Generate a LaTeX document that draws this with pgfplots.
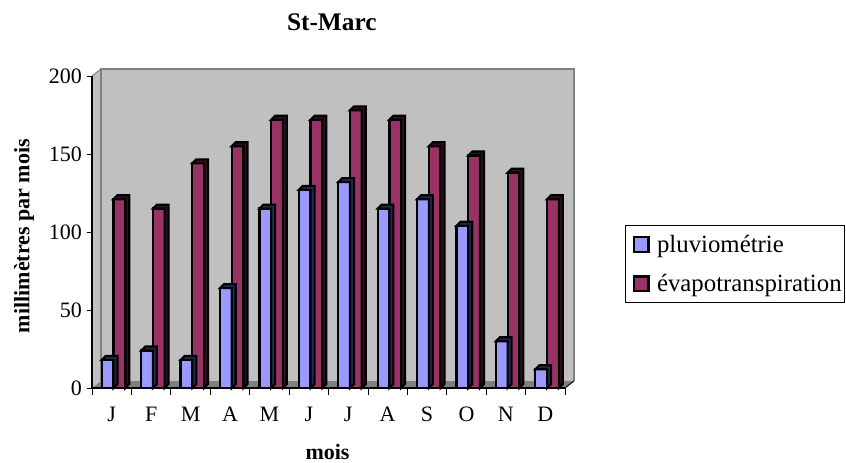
\documentclass[border=0pt]{standalone}
\usepackage{fontspec}
\setmainfont{Liberation Serif}
\usepackage{pgfplots}
\usepackage{pgfplotstable}
\pgfplotsset{compat=1.18}

\definecolor{pluvio}{HTML}{9999FF}
\definecolor{pluviodark}{HTML}{26264D}
\definecolor{evapo}{HTML}{993366}
\definecolor{evapodark}{HTML}{2E0F1F}
\definecolor{wall}{HTML}{C0C0C0}
\definecolor{wallline}{HTML}{808080}

% month position, pluviometrie, evapotranspiration
\pgfplotstableread{
pos pluie evap
0.5 18 121
1.5 24 115
2.5 18 144
3.5 64 155
4.5 115 172
5.5 127 172
6.5 132 178
7.5 115 172
8.5 121 155
9.5 104 149
10.5 30 138
11.5 12 121
}\stmarc

% top and right faces of a bar, hanging from the data point (1.17pt per mm)
\pgfdeclareplotmark{depth}{%
  \pgfmathsetmacro\barh{\rawy*1.17}%
  \pgfpathmoveto{\pgfpoint{-4.4pt}{0pt}}%
  \pgfpathlineto{\pgfpoint{-1.4pt}{3pt}}%
  \pgfpathlineto{\pgfpoint{7.4pt}{3pt}}%
  \pgfpathlineto{\pgfpoint{7.4pt}{3pt-\barh pt}}%
  \pgfpathlineto{\pgfpoint{4.4pt}{-\barh pt}}%
  \pgfpathlineto{\pgfpoint{4.4pt}{0pt}}%
  \pgfpathclose
  \pgfusepathqfillstroke
}

\begin{document}
\begin{tikzpicture}[x=0.75pt,y=0.75pt]
  \path[use as bounding box,fill=white] (0,0) rectangle (846,462);
  % 3D frame: left wall, floor, back wall
  \fill[wall] (92,74) -- (101,81) -- (101,393) -- (92,386) -- cycle;
  \fill[wall] (101,81) rectangle (574,393);
  \fill[wallline] (92,74) -- (565,74) -- (574,81) -- (101,81) -- cycle;
  \draw[wallline,line width=2pt] (101,81) -- (101,393) -- (574,393) -- (574,81);
  \draw[wallline,line width=0.8pt] (92,386) -- (101,393);
  \draw[black,line width=0.7pt] (565,74) -- (574,81);
  \begin{axis}[
    at={(69pt,55.5pt)},
    anchor=south west,
    scale only axis,
    width=354.75pt,
    height=234pt,
    clip=false,
    xmin=0, xmax=12,
    ymin=0, ymax=200,
    axis lines*=left,
    axis line style={-,black,line width=0.8pt},
    tick align=outside,
    xtick={0.5,1.5,...,11.5},
    xticklabels={J,F,M,A,M,J,J,A,S,O,N,D},
    minor xtick={0,1,...,12},
    minor tick length=5pt,
    major tick length=4pt,
    major x tick style={draw=none},
    minor x tick style={black,line width=0.6pt},
    ytick={0,50,...,200},
    y tick style={black,line width=0.6pt},
    tick label style={font=\fontsize{16.5}{18}\selectfont},
    /pgf/number format/assume math mode=true,
    x tick label style={yshift=-6.5pt},
    title={\textbf{St-Marc}},
    title style={at={(0.507,1)},anchor=center,yshift=34pt,font=\fontsize{19}{22}\selectfont},
    xlabel={\textbf{mois}},
    xlabel style={at={(0.498,0)},anchor=center,yshift=-48pt,font=\fontsize{16.5}{20}\selectfont},
    ylabel={\textbf{millimètres par mois}},
    ylabel style={at={(0,0.487)},anchor=center,yshift=51pt,font=\fontsize{16.5}{20}\selectfont},
    legend style={at={(1.127,0.522)},anchor=north west,draw=black,line width=0.6pt,
      font=\fontsize{18.6}{22}\selectfont,inner xsep=0pt,inner ysep=5pt,row sep=11pt,
      /tikz/every even column/.append style={column sep=1pt}},
    legend cell align=left,
    scatter/@pre marker code/.code={},
    scatter/@post marker code/.code={},
    visualization depends on={y \as \rawy},
  ]
    \addplot[forget plot,only marks,scatter,scatter src=y,mark=depth,
      mark options={draw=black,fill=pluviodark,line width=1.6pt,xshift=-3.05pt}]
      table[x=pos,y=pluie] {\stmarc};
    \addplot[ybar,bar width=8.8pt,bar shift=-3.05pt,draw=black,fill=pluvio,line width=1.7pt,
      legend image code/.code={\path (-2pt,0pt) (18pt,0pt);\draw[black,fill=pluvio,line width=1.7pt] (3.5pt,-5.5pt) rectangle (14.5pt,5.5pt);}]
      table[x=pos,y=pluie] {\stmarc};
    \addlegendentry{pluviométrie}
    \addplot[forget plot,only marks,scatter,scatter src=y,mark=depth,
      mark options={draw=black,fill=evapodark,line width=1.6pt,xshift=5.75pt}]
      table[x=pos,y=evap] {\stmarc};
    \addplot[ybar,bar width=8.8pt,bar shift=5.75pt,draw=black,fill=evapo,line width=1.7pt,
      legend image code/.code={\path (-2pt,0pt) (18pt,0pt);\draw[black,fill=evapo,line width=1.7pt] (3.5pt,-5.5pt) rectangle (14.5pt,5.5pt);}]
      table[x=pos,y=evap] {\stmarc};
    \addlegendentry{évapotranspiration}
  \end{axis}
\end{tikzpicture}
\end{document}
